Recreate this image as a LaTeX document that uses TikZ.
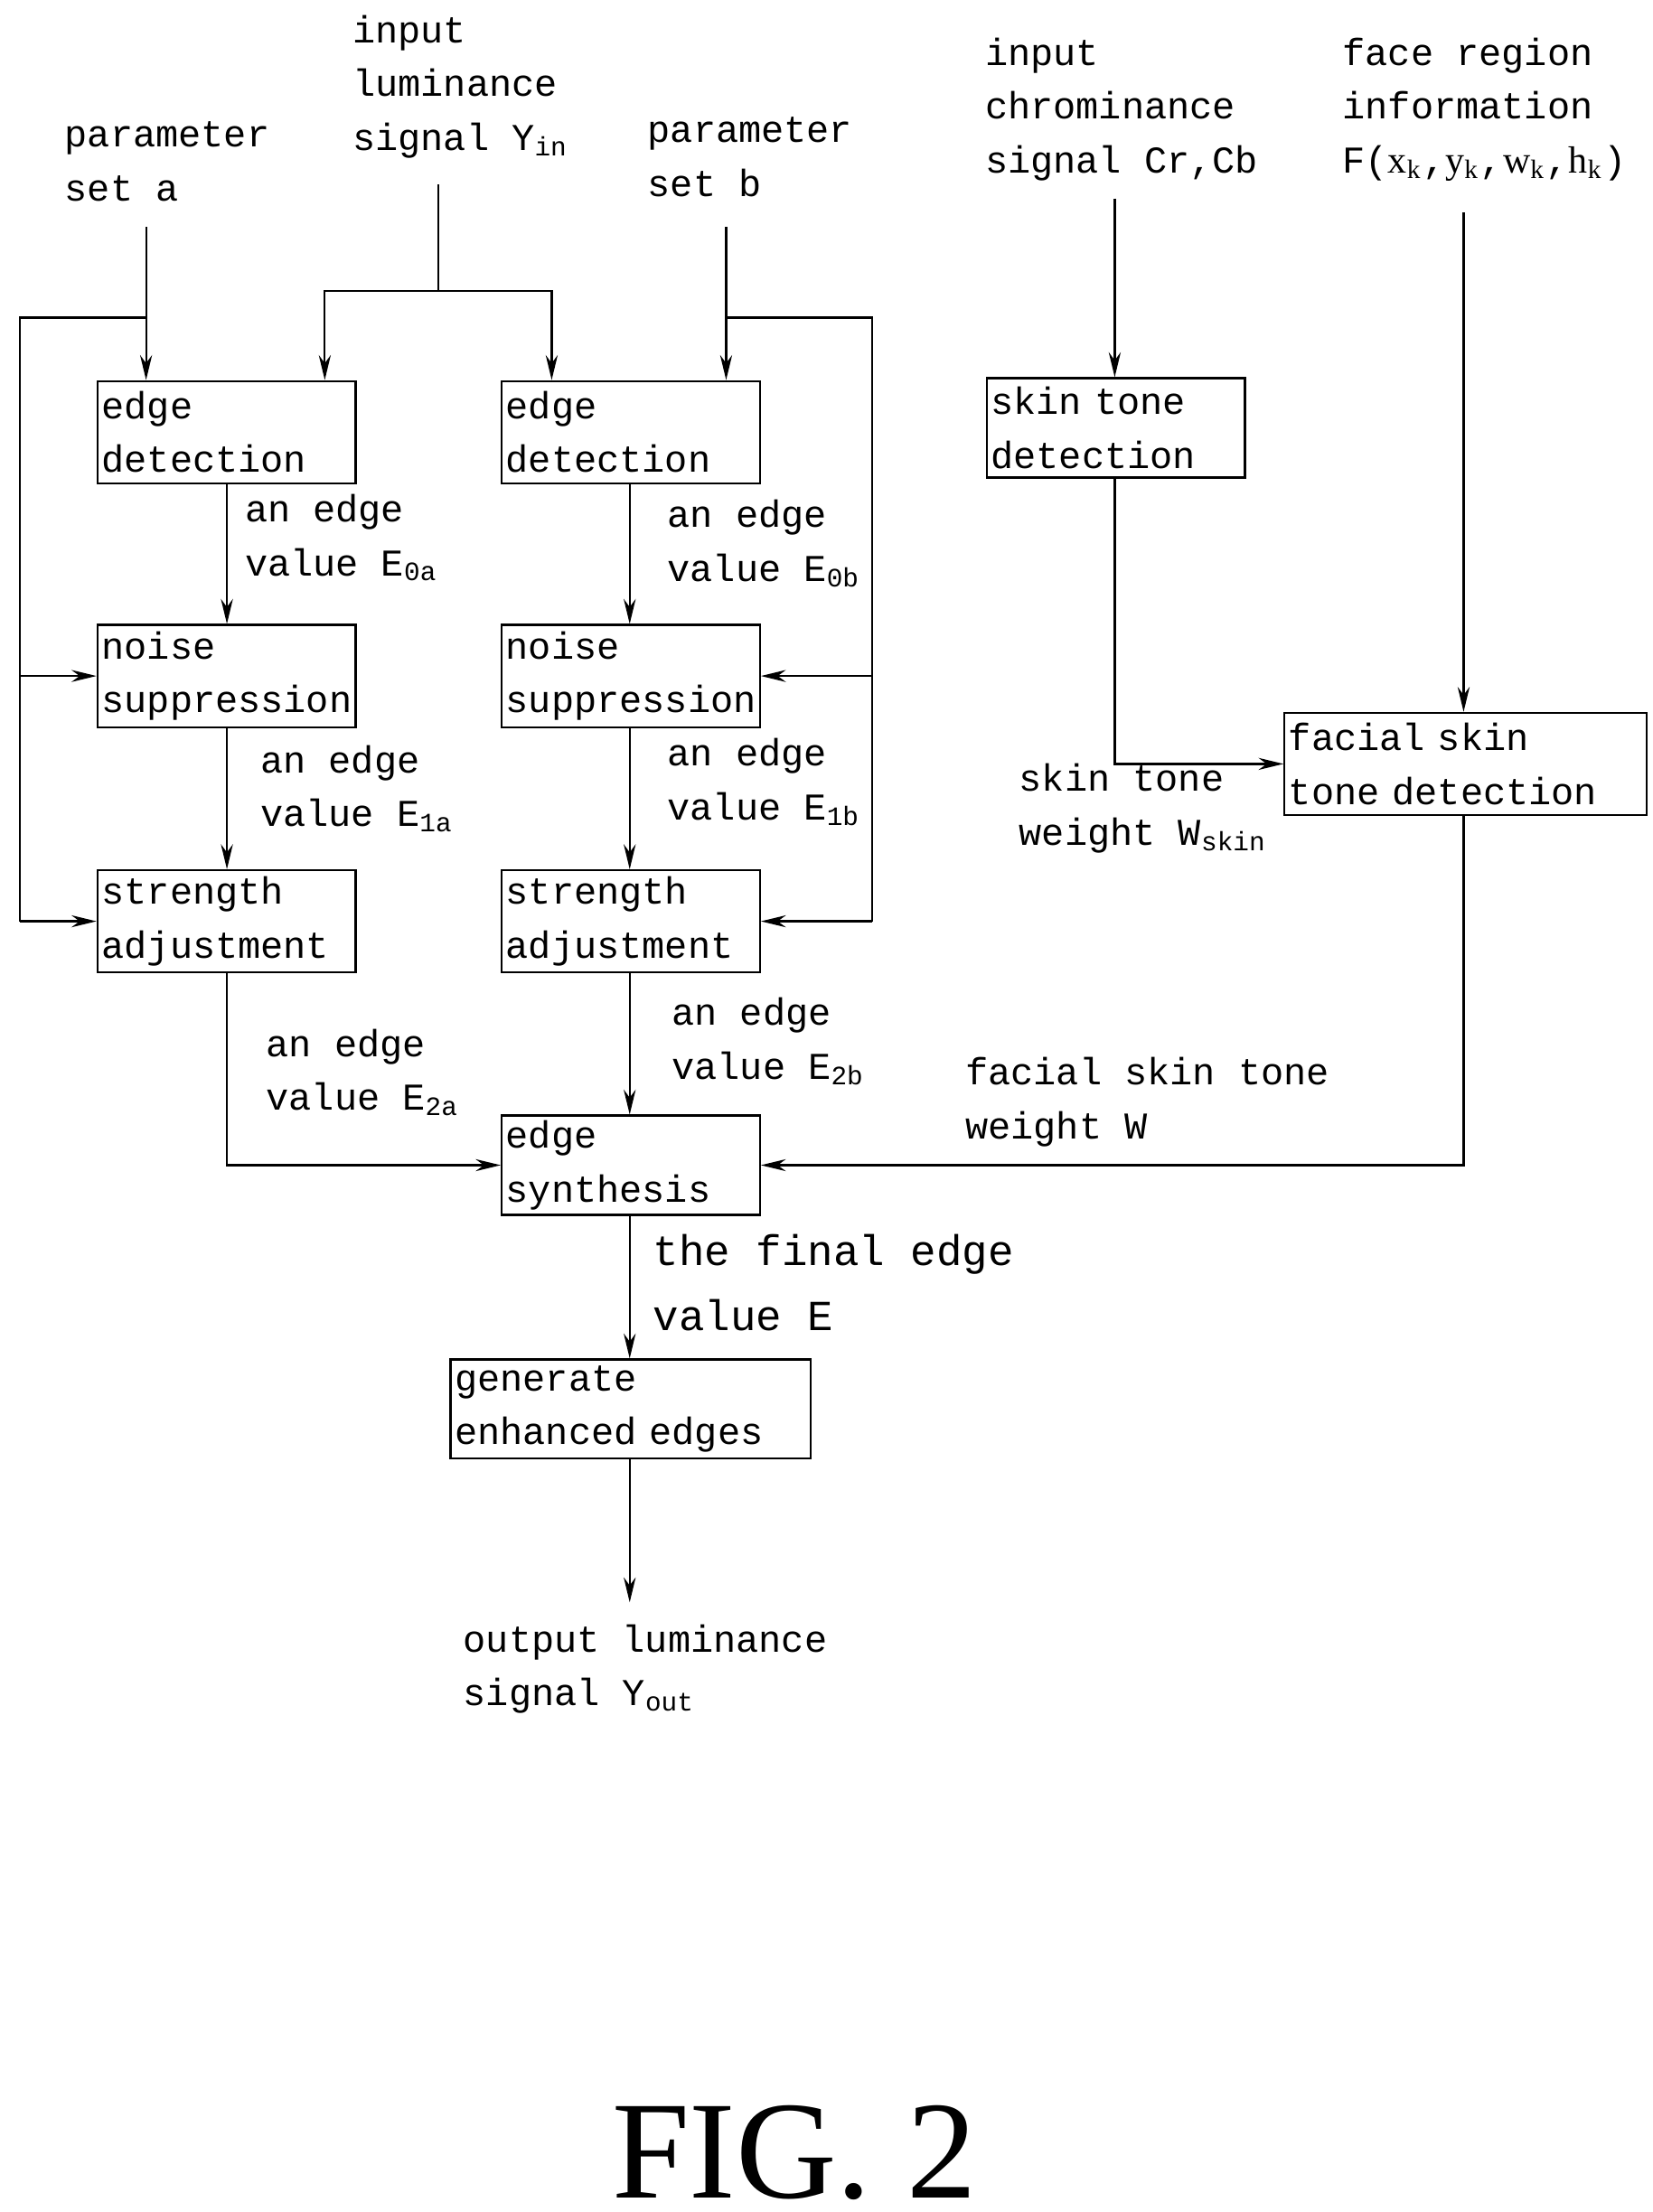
\documentclass[tikz,border=0pt]{standalone}
\usepackage{fontspec}
\setmainfont{Liberation Serif}
\newfontfamily\diagfont{Liberation Mono}
\usetikzlibrary{arrows.meta,calc}
\tikzset{
  box/.style={draw, thin, rectangle, minimum width=1.82cm, minimum height=0.72cm,
    text width=1.76cm, inner xsep=0.03cm, inner ysep=0, align=left, anchor=north west,
    font=\diagfont\fontsize{7.6}{10.8}\selectfont},
  txt/.style={anchor=north west, align=left, inner sep=0,
    font=\diagfont\fontsize{7.6}{10.8}\selectfont},
  arr/.style={-{Stealth[length=5pt,width=2.4pt]}, thin},
  ln/.style={thin}
}
\newcommand{\sub}[1]{\textsubscript{#1}}
\begin{document}
\begin{tikzpicture}[x=0.01cm,y=-0.01cm]
\useasboundingbox (0,0) rectangle (1165,1560);

% boxes
\node[box] (eda) at (68,268) {edge\\detection};
\node[box] (edb) at (353,268) {edge\\detection};
\node[box] (nsa) at (68,440) {noise\\suppression};
\node[box] (nsb) at (353,440) {noise\\suppression};
\node[box] (saa) at (68,613) {strength\\adjustment};
\node[box] (sab) at (353,613) {strength\\adjustment};
\node[box, minimum height=0.70cm] (syn) at (353,786) {edge\\synthesis};
\node[box, minimum width=2.54cm, text width=2.48cm, minimum height=0.70cm] (gen) at (317,958) {generate\\enhanced edges};
\node[box, minimum height=0.70cm] (std) at (695,266) {skin tone\\detection};
\node[box, minimum width=2.55cm, text width=2.49cm] (fst) at (905,502) {facial skin\\tone detection};

% texts
\node[txt] (pa) at (45,85) {parameter\\set a};
\node[txt] (yin) at (248,10) {input\\luminance\\signal Y\sub{in}};
\node[txt] (pb) at (456,82) {parameter\\set b};
\node[txt] (cr) at (694,26) {input\\chrominance\\signal Cr,Cb};
\node[txt] (fr) at (946,26) {face region\\information\\F($\mathrm{x_k}$,$\mathrm{y_k}$,$\mathrm{w_k}$,$\mathrm{h_k}$)};
\node[txt] (le0a) at (172,348) {an edge\\value E\sub{0a}};
\node[txt] (le0b) at (470,352) {an edge\\value E\sub{0b}};
\node[txt] (le1a) at (183,525) {an edge\\value E\sub{1a}};
\node[txt] (le1b) at (470,520) {an edge\\value E\sub{1b}};
\node[txt] (le2a) at (187,725) {an edge\\value E\sub{2a}};
\node[txt] (le2b) at (473,703) {an edge\\value E\sub{2b}};
\node[txt, font=\diagfont\fontsize{8.6}{13}\selectfont] (lfin) at (460,870) {the final edge\\value E};
\node[txt] (lout) at (326,1145) {output luminance\\signal Y\sub{out}};
\node[txt] (lws) at (718,538) {skin tone\\weight W\sub{skin}};
\node[txt] (lw) at (680,745) {facial skin tone\\weight W};

% junctions
\coordinate (ta) at (103,224);
\coordinate (la) at (14,224);
\coordinate (tb) at (512,224);
\coordinate (rb) at (615,224);
\coordinate (ty) at (309,205);

% parameter set a
\draw[arr] (103,160) -- (eda.north -| ta);
\draw[ln] (ta) -- (la) -- (la |- saa.west);
\draw[arr] (la |- nsa.west) -- (nsa.west);
\draw[arr] (la |- saa.west) -- (saa.west);

% luminance
\draw[ln] (309,130) -- (ty);
\draw[arr] (ty) -| (229,268);
\draw[arr] (ty) -| (389,268);

% parameter set b
\draw[arr] (512,160) -- (edb.north -| tb);
\draw[ln] (tb) -- (rb) -- (rb |- sab.east);
\draw[arr] (rb |- nsb.east) -- (nsb.east);
\draw[arr] (rb |- sab.east) -- (sab.east);

% chains
\draw[arr] (eda.south -| 160,0) -- (nsa.north -| 160,0);
\draw[arr] (nsa.south -| 160,0) -- (saa.north -| 160,0);
\draw[arr] (edb.south -| 444,0) -- (nsb.north -| 444,0);
\draw[arr] (nsb.south -| 444,0) -- (sab.north -| 444,0);
\draw[arr] (sab.south -| 444,0) -- (syn.north -| 444,0);
\draw[arr] (saa.south -| 160,0) |- (syn.west);
\draw[arr] (syn.south -| 444,0) -- (gen.north -| 444,0);
\draw[arr] (gen.south -| 444,0) -- (444,1130);

% skin tone
\draw[arr] (786,140) -- (std.north -| 786,0);
\draw[arr] (std.south -| 786,0) |- (fst.west);
\draw[arr] (1032,150) -- (fst.north -| 1032,0);
\draw[arr] (fst.south -| 1032,0) |- (syn.east);

\node[font=\fontsize{28}{28}\selectfont, inner sep=0] (fig) at (560,1518) {FIG. 2};
\end{tikzpicture}
\end{document}
